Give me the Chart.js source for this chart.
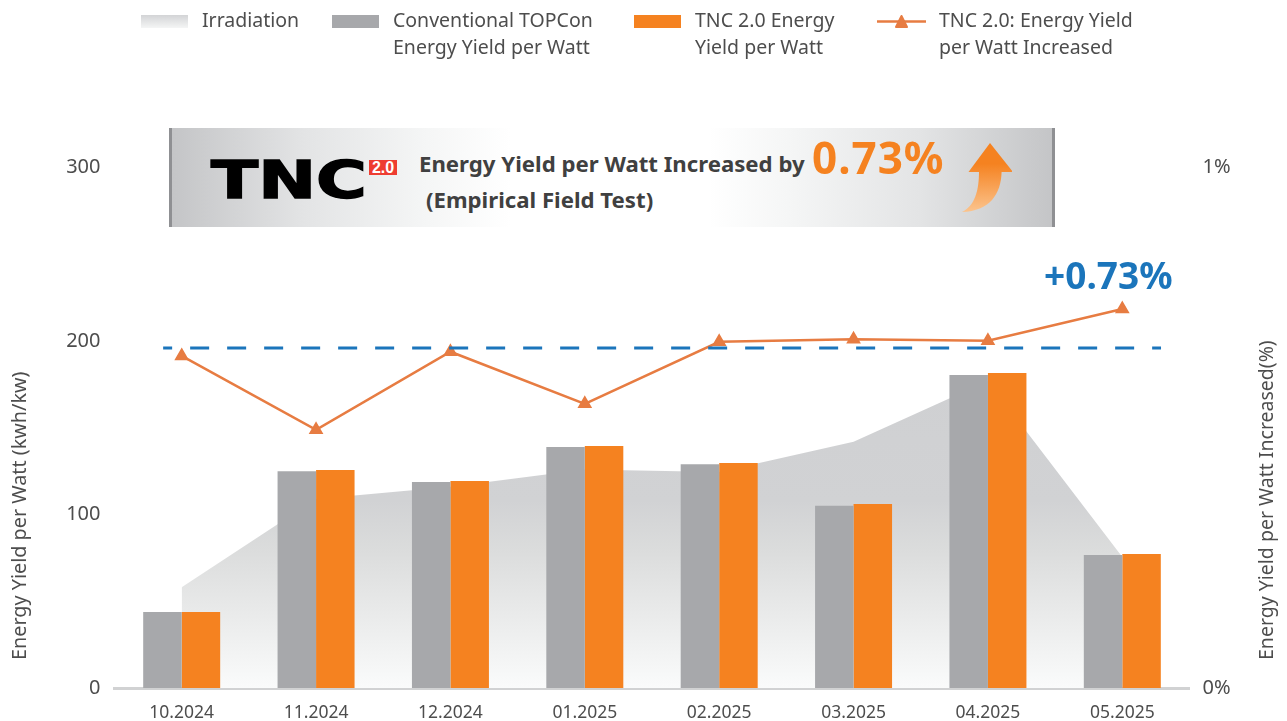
<!DOCTYPE html>
<html>
<head>
<meta charset="utf-8">
<title>TNC 2.0 Energy Yield</title>
<script src="https://cdn.jsdelivr.net/npm/chart.js@4"></script>
<style>
    html, body { margin: 0; padding: 0; background: #fff; overflow: hidden; }
    body { width: 1287px; height: 721px; position: relative; font-family: "Noto Sans", sans-serif; color: #4d4d4d; }
    canvas { position: absolute; left: 0; top: 0; }
    .legend-text { position: absolute; top: 6px; font-size: 19.5px; line-height: 27px; white-space: nowrap; }
    .swatch { position: absolute; top: 15px; width: 47px; height: 13px; }
    .banner { position: absolute; left: 169px; top: 128px; width: 886px; height: 99px; box-sizing: border-box;
        border-left: 3px solid #8f9093; border-right: 3px solid #8f9093;
        background: linear-gradient(90deg, #c4c5c7 0%, #e3e4e5 15%, #f5f6f6 29%, #fff 38.5%, #fff 61%, #f5f6f6 70%, #e3e4e5 85%, #c4c5c7 100%); }
    .banner div, .banner svg { position: absolute; white-space: nowrap; }
    .banner-text { font-weight: 700; font-size: 22.2px; line-height: 30px; color: #404040; }
</style>
</head>
<body>
<canvas id="chart" width="1287" height="721"></canvas>

<div class="swatch" style="left:141px;background:linear-gradient(#d3d4d6,#f4f5f5)"></div>
<div class="swatch" style="left:332px;background:#a7a8ab"></div>
<div class="swatch" style="left:634px;background:#f58220"></div>
<svg style="position:absolute;left:877px;top:12px" width="49" height="20">
    <line x1="0" y1="9.5" x2="49" y2="9.5" stroke="#e77c42" stroke-width="2.5"/>
    <path d="M24.5 4 L30 15 L19 15 Z" fill="#e77c42" stroke="#e77c42" stroke-width="2" stroke-linejoin="round"/>
</svg>
<div class="legend-text" id="legend0" style="left:202px"></div>
<div class="legend-text" id="legend1" style="left:393px"></div>
<div class="legend-text" id="legend2" style="left:695px"></div>
<div class="legend-text" id="legend3" style="left:939px"></div>

<div class="banner">
    <div id="logo" style="left:39px;top:22px;font-family:'DejaVu Sans';font-weight:700;font-size:52px;line-height:60px;color:#000;-webkit-text-stroke:1.5px #000;transform-origin:0 0;transform:scaleX(1.33)">TNC</div>
    <div style="left:197px;top:32px;width:28px;height:15px;background:#ee3d31;color:#fff;font-family:'Liberation Sans';font-weight:700;font-size:16px;line-height:15px;text-align:center">2.0</div>
    <div class="banner-text" id="bannerLine1" style="left:247px;top:21px"></div>
    <div class="banner-text" id="bannerLine2" style="left:254px;top:57px"></div>
    <div id="bannerValue" style="left:640px;top:-1px;font-weight:700;font-size:44px;line-height:60px;letter-spacing:1px;color:#f58220"></div>
    <svg style="left:780px;top:0" width="60" height="99">
        <defs><linearGradient id="arrowFill" x1="0" y1="0" x2="0" y2="1">
            <stop offset="0.3" stop-color="#f58220"/><stop offset="1" stop-color="#fbc48e"/>
        </linearGradient></defs>
        <path d="M38 15 L61 44 L49.6 44 C49 66 38 83 10 84 C23 78 27 62 27 44 L16.5 44 Z" fill="url(#arrowFill)"/>
    </svg>
</div>

<script>
// Du lieu bieu do
const categories = ["10.2024", "11.2024", "12.2024", "01.2025", "02.2025", "03.2025", "04.2025", "05.2025"];
const irradiation = [58, 109, 116, 126, 124.5, 142, 177, 75.5];
const conventional = [43.8, 125, 118.7, 138.9, 129, 105, 180.4, 76.7];
const tnc = [43.8, 125.6, 119.3, 139.5, 129.7, 106, 181.6, 77.2];
const increased = [0.638, 0.496, 0.646, 0.546, 0.665, 0.67, 0.667, 0.728];
const averageLevel = 0.653;
const averageRange = [-0.138, 7.288];

const legendLabels = [
    ["Irradiation"],
    ["Conventional TOPCon", "Energy Yield per Watt"],
    ["TNC 2.0 Energy", "Yield per Watt"],
    ["TNC 2.0: Energy Yield", "per Watt Increased"]
];
const leftTitle = "Energy Yield per Watt (kwh/kw)";
const rightTitle = "Energy Yield per Watt Increased(%)";
const lastLabel = "+0.73%";

legendLabels.forEach(function(lines, i) {
    document.getElementById("legend" + i).innerHTML = lines.join("<br>");
});
document.getElementById("bannerLine1").textContent = "Energy Yield per Watt Increased by";
document.getElementById("bannerLine2").textContent = "(Empirical Field Test)";
document.getElementById("bannerValue").textContent = "0.73%";

// Nen vung Irradiation nhat dan ve phia truc hoanh
function areaGradient(context) {
    const chart = context.chart;
    if (!chart.chartArea)
        return "#dcdddf";
    const y = chart.scales.yYield;
    const gradient = chart.ctx.createLinearGradient(0, y.getPixelForValue(177), 0, y.getPixelForValue(0));
    gradient.addColorStop(0, "#cfd0d2");
    gradient.addColorStop(0.39, "#d1d2d4");
    gradient.addColorStop(0.55, "#dbdcdc");
    gradient.addColorStop(0.84, "#eff0f0");
    gradient.addColorStop(1, "#fafbfb");
    return gradient;
}

// Duong net dut trung binh: dung scale cua chart, vuot qua diem dau/cuoi nen khong dung dataset
const averageLine = {
    id: "averageLine",
    afterDatasetsDraw: function(chart) {
        const ctx = chart.ctx;
        const x = chart.scales.x;
        const step = x.getPixelForTick(1) - x.getPixelForTick(0);
        const y = chart.scales.yPct.getPixelForValue(averageLevel);
        ctx.save();
        ctx.strokeStyle = "#1b75bb";
        ctx.lineWidth = 3;
        ctx.setLineDash([19, 18]);
        ctx.lineDashOffset = 10;
        ctx.beginPath();
        ctx.moveTo(x.getPixelForTick(0) + step * averageRange[0], y);
        ctx.lineTo(x.getPixelForTick(0) + step * averageRange[1], y);
        ctx.stroke();
        ctx.restore();
    }
};

// Tieu de truc va nhan +0.73% ve bang tay vi Chart.js khong xoay/can duoc nhu anh goc
const extraText = {
    id: "extraText",
    afterDraw: function(chart) {
        const ctx = chart.ctx;
        ctx.save();
        ctx.fillStyle = "#4d4d4d";
        ctx.textAlign = "left";
        ctx.textBaseline = "middle";
        [[20, leftTitle, 19.8], [1267, rightTitle, 19.5]].forEach(function(t) {
            ctx.save();
            ctx.font = t[2] + 'px "Noto Sans"';
            ctx.translate(t[0], 660);
            ctx.rotate(-Math.PI / 2);
            ctx.fillText(t[1], 0, 0);
            ctx.restore();
        });
        const points = chart.getDatasetMeta(1).data;
        const last = points[points.length - 1];
        ctx.fillStyle = "#1b75bb";
        ctx.font = '700 37px "Noto Sans"';
        ctx.textAlign = "center";
        ctx.textBaseline = "alphabetic";
        ctx.fillText(lastLabel, last.x - 14, last.y - 20);
        ctx.restore();
    }
};

new Chart(document.getElementById("chart").getContext("2d"), {
    type: "bar",
    data: {
        labels: categories,
        datasets: [
            {
                type: "line", label: "Irradiation", data: irradiation, yAxisID: "yYield", order: 5,
                fill: "origin", backgroundColor: areaGradient, borderWidth: 0, pointRadius: 0, tension: 0
            },
            {
                type: "line", label: "TNC 2.0: Energy Yield per Watt Increased", data: increased, yAxisID: "yPct", order: 1,
                borderColor: "#e77c42", borderWidth: 2.5, tension: 0,
                pointStyle: "triangle", pointRadius: 7, pointBorderWidth: 1.5,
                pointBackgroundColor: "#e77c42", pointBorderColor: "#e77c42"
            },
            {
                type: "bar", label: "Conventional TOPCon Energy Yield per Watt", data: conventional, yAxisID: "yYield", order: 3,
                backgroundColor: "#a7a8ab", barPercentage: 1, categoryPercentage: 0.573
            },
            {
                type: "bar", label: "TNC 2.0 Energy Yield per Watt", data: tnc, yAxisID: "yYield", order: 3,
                backgroundColor: "#f58220", barPercentage: 1, categoryPercentage: 0.573
            }
        ]
    },
    options: {
        responsive: false,
        animation: false,
        layout: {padding: {top: 167.5, bottom: 0, left: 0, right: 0}},
        plugins: {legend: {display: false}, tooltip: {enabled: false}},
        scales: {
            x: {
                grid: {display: false},
                border: {color: "#d1d2d3", width: 3},
                ticks: {color: "#4d4d4d", font: {family: "Noto Sans", size: 17.5}, padding: 7, maxRotation: 0},
                afterFit: function(scale) { scale.height = 33; }
            },
            yYield: {
                position: "left", min: 0, max: 300,
                grid: {display: false}, border: {display: false},
                ticks: {stepSize: 100, color: "#4d4d4d", font: {family: "Noto Sans", size: 20}, padding: 6},
                afterFit: function(scale) { scale.width = 114.5; }
            },
            yPct: {
                position: "right", min: 0, max: 1,
                grid: {display: false}, border: {display: false},
                ticks: {
                    stepSize: 1, color: "#4d4d4d", font: {family: "Noto Sans", size: 20}, padding: 5,
                    callback: function(value) { return value + "%"; }
                },
                afterFit: function(scale) { scale.width = 97.5; }
            }
        }
    },
    plugins: [averageLine, extraText]
});
</script>
</body>
</html>
